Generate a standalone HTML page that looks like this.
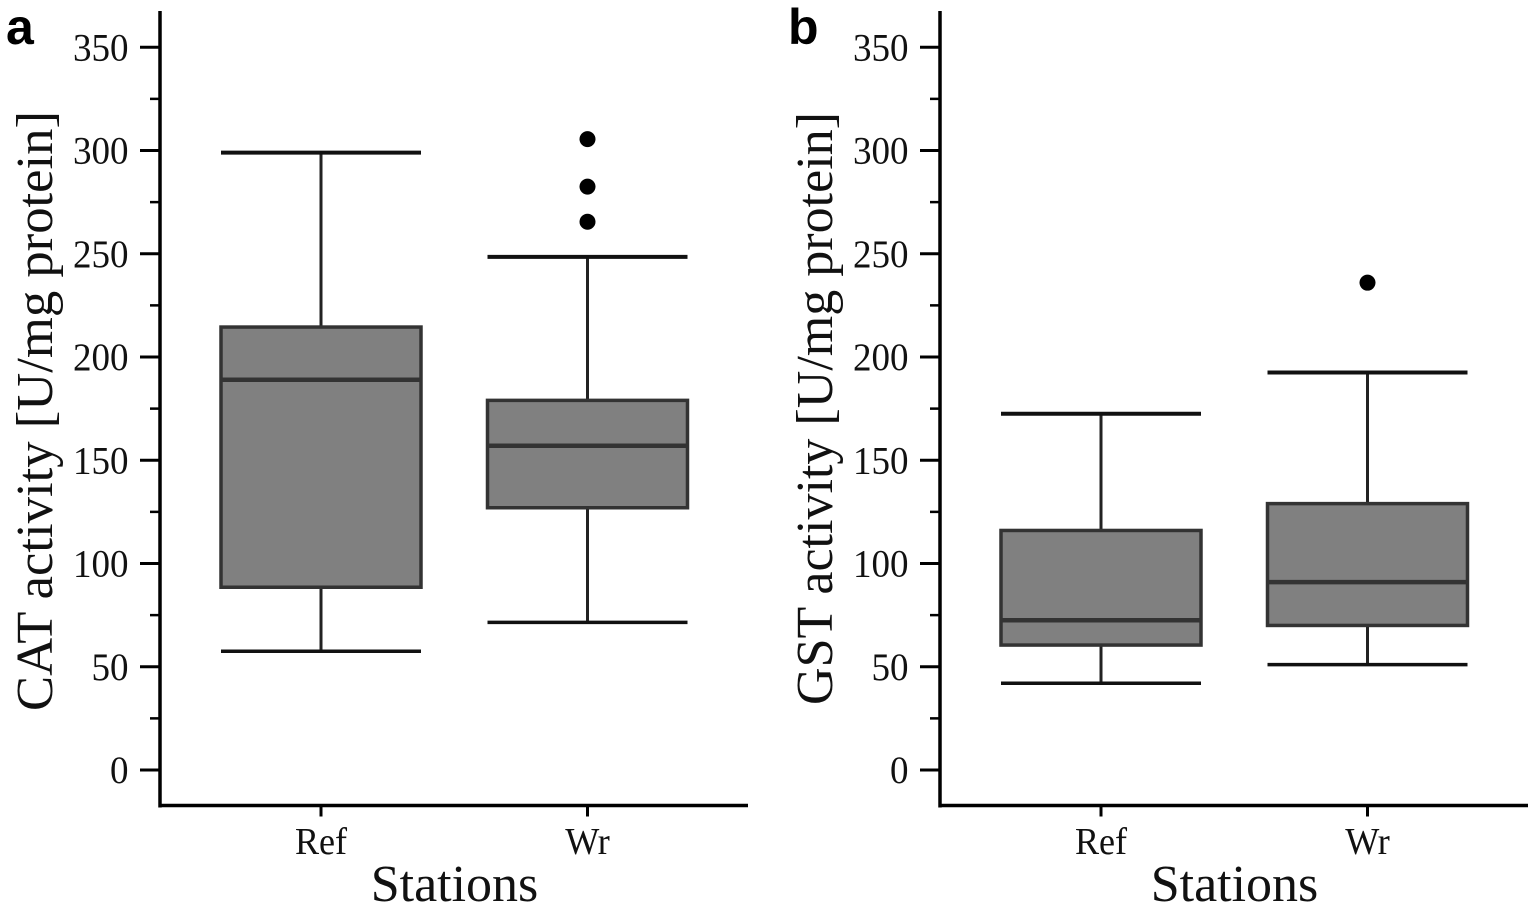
<!DOCTYPE html>
<html lang="en">
<head>
<meta charset="utf-8">
<title>CAT and GST activity by station</title>
<style>
  html, body { margin: 0; padding: 0; background: #fff; }
  svg { display: block; }
  text { font-family: "Liberation Serif", serif; fill: #111; }
  .panel-letter { font-family: "Liberation Sans", sans-serif; font-weight: 700; font-size: 50px; fill: #000; }
  .axis-title { font-size: 52px; }
</style>
</head>
<body>
<svg id="chart" width="1535" height="912" viewBox="0 0 1535 912" xmlns="http://www.w3.org/2000/svg">
  <rect x="0" y="0" width="1535" height="912" fill="#ffffff"/>
  <g id="panel-a"></g>
  <g id="panel-b"></g>
  <text class="panel-letter" x="6" y="44">a</text>
  <text class="panel-letter" x="788" y="44">b</text>
  <text class="axis-title" transform="translate(52,711) rotate(-90)" textLength="600" lengthAdjust="spacingAndGlyphs">CAT activity [U/mg protein]</text>
  <text class="axis-title" transform="translate(832,705) rotate(-90)" textLength="593" lengthAdjust="spacingAndGlyphs">GST activity [U/mg protein]</text>
  <text class="axis-title" x="454.5" y="901" text-anchor="middle">Stations</text>
  <text class="axis-title" x="1234.5" y="901" text-anchor="middle">Stations</text>
</svg>
<script>
const categories = ['Ref', 'Wr'];
const majorTicks = [0, 50, 100, 150, 200, 250, 300, 350];
const minorTicks = [25, 75, 125, 175, 225, 275, 325];

// Five-number summaries: [low whisker, Q1, median, Q3, high whisker]
const catRef = [57.5, 88.5, 189, 214.5, 299];
const catWr = [71.5, 127, 157, 179, 248.5];
const catRefOutliers = [];
const catWrOutliers = [265.5, 282.5, 305.5];

const gstRef = [42, 60.5, 72.5, 116, 172.5];
const gstWr = [51, 70, 91, 129, 192.5];
const gstRefOutliers = [];
const gstWrOutliers = [236];

const NS = 'http://www.w3.org/2000/svg';
const Y_ZERO = 770;
const Y_PER_UNIT = 2.065;
const AXIS_BOTTOM = 805.5;
const AXIS_TOP = 11;
const AXIS_WIDTH = 588;
const FIRST_CATEGORY = 161;
const CATEGORY_STEP = 266.5;
const BOX_HALF = 100;

function yScale(v) {
  return Y_ZERO - v * Y_PER_UNIT;
}
function xScale(left, i) {
  return left + FIRST_CATEGORY + i * CATEGORY_STEP;
}
function make(tag, attrs, parent) {
  const el = document.createElementNS(NS, tag);
  for (const k in attrs) el.setAttribute(k, attrs[k]);
  parent.appendChild(el);
  return el;
}

function drawAxes(g, left) {
  majorTicks.forEach(function (t) {
    const y = yScale(t);
    const tick = make('line', { x1: left - 20, x2: left, y1: y, y2: y, stroke: '#000', 'stroke-width': 3 }, g);
    
    
    const label = make('text', { 'text-anchor': 'end', 'font-size': 39, transform: 'translate(' + (left - 31.5) + ',' + (y + 13) + ') scale(0.95,1)' }, g);
    label.textContent = String(t);
    
    
  });
  minorTicks.forEach(function (t) {
    const y = yScale(t);
    const tick = make('line', { x1: left - 10, x2: left, y1: y, y2: y, stroke: '#000', 'stroke-width': 2.5 }, g);
    
    
  });
  categories.forEach(function (c, i) {
    const x = xScale(left, i);
    const tick = make('line', { x1: x, x2: x, y1: AXIS_BOTTOM, y2: AXIS_BOTTOM + 11, stroke: '#000', 'stroke-width': 3 }, g);
    
    
    const label = make('text', { 'text-anchor': 'middle', 'font-size': 38, transform: 'translate(' + x + ',854) scale(0.95,1)' }, g);
    label.textContent = c;
    
    
  });
  const yAxis = make('line', { x1: left, x2: left, y1: AXIS_TOP, y2: AXIS_BOTTOM + 2, stroke: '#000', 'stroke-width': 3.5 }, g);
  
  
  const xAxis = make('line', { x1: left - 1, x2: left + AXIS_WIDTH, y1: AXIS_BOTTOM, y2: AXIS_BOTTOM, stroke: '#000', 'stroke-width': 3.5 }, g);
  
  
}

function drawBox(g, left, i, stats, outliers) {
  const x = xScale(left, i);
  const low = stats[0], q1 = stats[1], med = stats[2], q3 = stats[3], high = stats[4];

  const whisker = make('line', { x1: x, x2: x, y1: yScale(high), y2: yScale(low), stroke: '#222', 'stroke-width': 3 }, g);
  
  

  const capHigh = make('line', { x1: x - BOX_HALF, x2: x + BOX_HALF, y1: yScale(high), y2: yScale(high), stroke: '#111', 'stroke-width': 4 }, g);
  
  

  const capLow = make('line', { x1: x - BOX_HALF, x2: x + BOX_HALF, y1: yScale(low), y2: yScale(low), stroke: '#111', 'stroke-width': 3.5 }, g);
  
  

  const box = make('rect', { x: x - BOX_HALF, y: yScale(q3), width: BOX_HALF * 2, height: yScale(q1) - yScale(q3), fill: '#808080', stroke: '#333', 'stroke-width': 3.5 }, g);
  
  

  const median = make('line', { x1: x - BOX_HALF, x2: x + BOX_HALF, y1: yScale(med), y2: yScale(med), stroke: '#333', 'stroke-width': 4.5 }, g);
  
  

  outliers.forEach(function (v) {
    const dot = make('circle', { cx: x, cy: yScale(v), r: 8, fill: '#000' }, g);
    
    
  });
}

const panelA = document.getElementById('panel-a');
const panelB = document.getElementById('panel-b');
drawAxes(panelA, 160);
drawBox(panelA, 160, 0, catRef, catRefOutliers);
drawBox(panelA, 160, 1, catWr, catWrOutliers);
drawAxes(panelB, 940);
drawBox(panelB, 940, 0, gstRef, gstRefOutliers);
drawBox(panelB, 940, 1, gstWr, gstWrOutliers);
</script>
</body>
</html>
